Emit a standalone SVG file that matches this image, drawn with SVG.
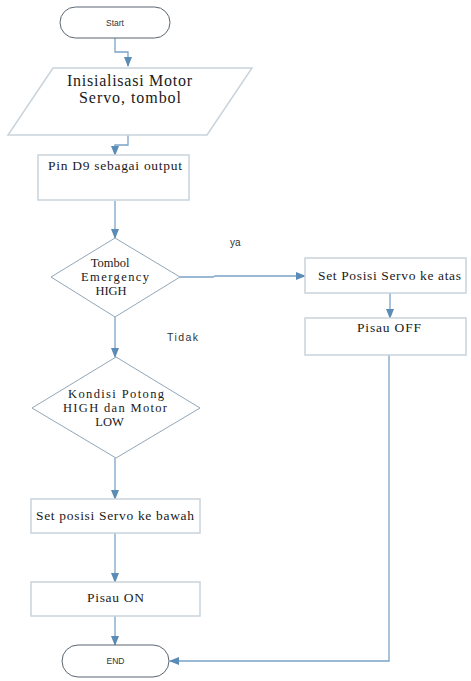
<svg xmlns="http://www.w3.org/2000/svg" width="471" height="681" viewBox="0 0 471 681">
<defs>
<marker id="ah" markerWidth="10" markerHeight="8" refX="9" refY="4" orient="auto" markerUnits="userSpaceOnUse">
<path d="M0,0 L10,4 L0,8 Z" fill="#5b8cb6"/>
</marker>
<style>
.term{fill:#fff;stroke:#5a6570;stroke-width:1}
.box{fill:#fff;stroke:#c9d3dc;stroke-width:1.5}
.dia{fill:#fff;stroke:#93a6b8;stroke-width:1}
.con{fill:none;stroke:#7aa3c6;stroke-width:1.3}
.serif{font-family:"Liberation Serif","Times New Roman",serif;fill:#1a1a1a}
.sans{font-family:"Liberation Sans",Arial,sans-serif;fill:#333}
</style>
</defs>
<rect width="471" height="681" fill="#fff"/>
<g id="connectors">
<path class="con" d="M115,38 V52 H128 V66" marker-end="url(#ah)"/>
<path class="con" d="M128,135 V145 H115 V155" marker-end="url(#ah)"/>
<path class="con" d="M115,201 V238" marker-end="url(#ah)"/>
<path class="con" d="M180,277 H213 L215,276 H305" marker-end="url(#ah)"/>
<path class="con" d="M115,317 V357" marker-end="url(#ah)"/>
<path class="con" d="M390,293 V318" marker-end="url(#ah)"/>
<path class="con" d="M115,458 V499" marker-end="url(#ah)"/>
<path class="con" d="M115,533 V582" marker-end="url(#ah)"/>
<path class="con" d="M115,616 V645" marker-end="url(#ah)"/>
<path class="con" d="M389,355 V661 H170" marker-end="url(#ah)"/>
<text class="sans" x="230" y="246" font-size="10">ya</text>
<text class="sans" x="167" y="341" font-size="10.5" textLength="31">Tidak</text>
</g>
<g id="start">
<rect class="term" x="60" y="7" width="110" height="31" rx="15.5"/>
<text class="sans" x="115" y="25.5" font-size="8.5" text-anchor="middle">Start</text>
</g>
<g id="init">
<polygon class="box" points="53,68 252,68 207,135 8,135"/>
<text class="serif" x="129.5" y="86" font-size="16" text-anchor="middle" textLength="125">Inisialisasi Motor</text>
<text class="serif" x="130" y="103" font-size="16" text-anchor="middle" textLength="102">Servo, tombol</text>
</g>
<g id="pin">
<rect class="box" x="38" y="155" width="151" height="45"/>
<text class="serif" x="48" y="170" font-size="13.5" textLength="134">Pin D9 sebagai output</text>
</g>
<g id="tombol">
<polygon class="dia" points="115,238 180,277 115,317 51,277"/>
<text class="serif" x="110" y="267" font-size="12.5" text-anchor="middle">Tombol</text>
<text class="serif" x="115" y="281" font-size="12.5" text-anchor="middle" textLength="68">Emergency</text>
<text class="serif" x="111" y="295" font-size="12.5" text-anchor="middle">HIGH</text>
</g>
<g id="servo-atas">
<rect class="box" x="305" y="258" width="161" height="35"/>
<text class="serif" x="389.5" y="280" font-size="13.5" text-anchor="middle" textLength="143">Set Posisi Servo ke atas</text>
</g>
<g id="pisau-off">
<rect class="box" x="305" y="318" width="161" height="37"/>
<text class="serif" x="389" y="332" font-size="13.5" text-anchor="middle" textLength="64">Pisau OFF</text>
</g>
<g id="kondisi">
<polygon class="dia" points="116,357 200,408 116,458 32,408"/>
<text class="serif" x="116" y="398" font-size="12.5" text-anchor="middle" textLength="96">Kondisi Potong</text>
<text class="serif" x="115" y="412" font-size="12.5" text-anchor="middle" textLength="104">HIGH dan Motor</text>
<text class="serif" x="109.5" y="426" font-size="12.5" text-anchor="middle">LOW</text>
</g>
<g id="servo-bawah">
<rect class="box" x="31" y="499" width="169" height="34"/>
<text class="serif" x="115" y="520" font-size="13.5" text-anchor="middle" textLength="158">Set posisi Servo ke bawah</text>
</g>
<g id="pisau-on">
<rect class="box" x="31" y="582" width="169" height="34"/>
<text class="serif" x="115.5" y="602" font-size="13.5" text-anchor="middle" textLength="57">Pisau ON</text>
</g>
<g id="end">
<rect class="term" x="62" y="645" width="107" height="32" rx="16"/>
<text class="sans" x="115.5" y="664" font-size="8.5" text-anchor="middle">END</text>
</g>
</svg>
